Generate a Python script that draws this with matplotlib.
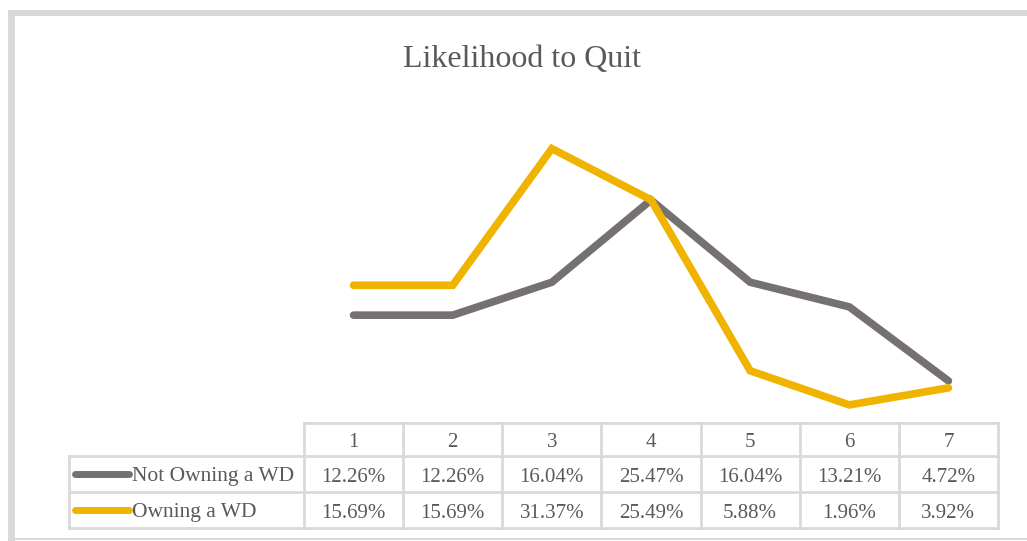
import numpy as np
import matplotlib.pyplot as plt
from matplotlib.lines import Line2D
from matplotlib.patches import Rectangle

categorias = [1, 2, 3, 4, 5, 6, 7]
no_wd = [12.26, 12.26, 16.04, 25.47, 16.04, 13.21, 4.72]
con_wd = [15.69, 15.69, 31.37, 25.49, 5.88, 1.96, 3.92]
series = ["Not Owning a WD", "Owning a WD"]

GRIS = '#767171'
AMARILLO = '#F0B400'
TEXTO = '#595959'
BORDE = '#D9D9D9'

plt.rcParams['font.family'] = ['Liberation Serif', 'DejaVu Serif']

W, H = 1027, 541
fig = plt.figure(figsize=(W / 100, H / 100), dpi=100)

def caja(x0, y0, x1, y1):
    # pixeles (origen arriba-izquierda) -> fraccion de figura
    return [x0 / W, 1 - y1 / H, (x1 - x0) / W, (y1 - y0) / H]

# marco exterior
fig.add_artist(Rectangle((8 / W, 0), 7 / W, 1 - 10 / H, transform=fig.transFigure,
                         color=BORDE, lw=0))
fig.add_artist(Rectangle((8 / W, 1 - 16 / H), 1, 6 / H, transform=fig.transFigure,
                         color=BORDE, lw=0))
fig.add_artist(Line2D([15 / W, 1], [1 - 539 / H] * 2, transform=fig.transFigure,
                      color=BORDE, lw=1.5))

fig.text(522 / W, 1 - 60 / H, "Likelihood to Quit", ha='center', va='center',
         fontsize=23, color=TEXTO)

# grafico de lineas
ax = fig.add_axes(caja(304, 117, 998, 422))
ax.plot(categorias, no_wd, color=GRIS, lw=5.5, solid_capstyle='round', solid_joinstyle='miter')
ax.plot(categorias, con_wd, color=AMARILLO, lw=5.5, solid_capstyle='round', solid_joinstyle='miter')
ax.set_xlim(0.5, 7.5)
ax.set_ylim(0, 35)
ax.axis('off')

# tabla de datos
tb = fig.add_axes(caja(304, 423, 998, 528))
tb.set_xlim(0.5, 7.5)
tb.set_ylim(528, 423)
tb.axis('off')

filas = [423, 456, 492, 528]
izq = 0.5 - (304 - 69) / 99.2
kw = dict(color=BORDE, lw=2, clip_on=False, solid_capstyle='projecting')

tb.plot([0.5, 7.5], [filas[0]] * 2, **kw)
for y in filas[1:]:
    tb.plot([izq, 7.5], [y] * 2, **kw)
tb.plot([izq, izq], [filas[1], filas[3]], **kw)
for i in range(8):
    tb.plot([0.5 + i] * 2, [filas[0], filas[3]], **kw)

dy = 3
for c in categorias:
    tb.text(c, (filas[0] + filas[1]) / 2 + dy, str(c), ha='center', va='center',
            fontsize=15, color=TEXTO, clip_on=False)

for k, (nombre, valores, col) in enumerate(zip(series, [no_wd, con_wd], [GRIS, AMARILLO])):
    yc = (filas[k + 1] + filas[k + 2]) / 2
    for c, v in zip(categorias, valores):
        tb.text(c, yc + dy, f"{v:.2f}%", ha='center', va='center', fontsize=15,
                color=TEXTO, clip_on=False)
    x0 = izq + 6 / 99.2
    x1 = izq + 60 / 99.2
    tb.plot([x0, x1], [yc, yc], color=col, lw=5, solid_capstyle='round', clip_on=False)
    tb.text(x1 + 3 / 99.2, yc + dy, nombre, ha='left', va='center', fontsize=15.5,
            color=TEXTO, clip_on=False)

fig.savefig('out.png', dpi=100)
